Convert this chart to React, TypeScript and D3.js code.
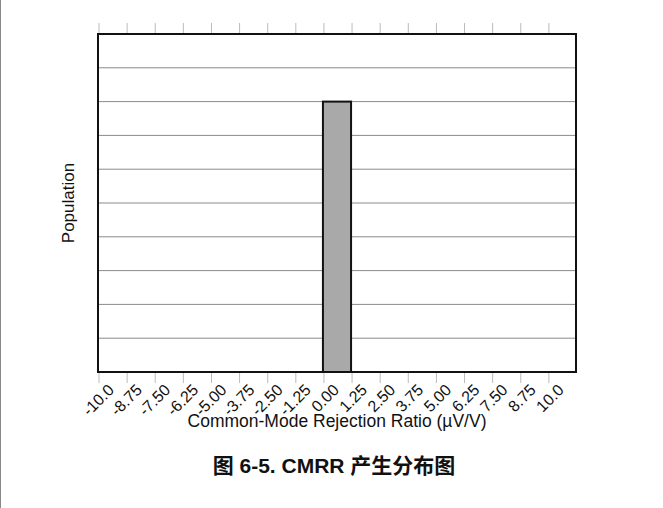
import * as d3 from "d3"

// bin edges (µV/V) and the count in each bin
const binStarts = [
  -10, -8.75, -7.5, -6.25, -5, -3.75, -2.5, -1.25, 0, 1.25, 2.5, 3.75, 5, 6.25, 7.5, 8.75, 10,
]
const binCounts = [0, 0, 0, 0, 0, 0, 0, 0, 8, 0, 0, 0, 0, 0, 0, 0, 0]
const tickValues = [
  -10, -8.75, -7.5, -6.25, -5, -3.75, -2.5, -1.25, 0, 1.25, 2.5, 3.75, 5, 6.25, 7.5, 8.75, 10,
]
const tickLabels = [
  "-10.0", "-8.75", "-7.50", "-6.25", "-5.00", "-3.75", "-2.50", "-1.25", "0.00",
  "1.25", "2.50", "3.75", "5.00", "6.25", "7.50", "8.75", "10.0",
]
const yGrid = [1, 2, 3, 4, 5, 6, 7, 8, 9]

const W = 663
const H = 508
const left = 98
const right = 576
const top = 34
const bottom = 372
const binWidth = 1.25

export default function App() {
  const x = d3.scaleLinear().domain([-10, 11.25]).range([left, right])
  const y = d3.scaleLinear().domain([0, 10]).range([bottom, top])
  const font = "Liberation Sans, Arial, sans-serif"

  return (
    <svg
      width={W}
      height={H}
      style={{ position: "absolute", left: 0, top: 0, background: "#fff" }}
      fontFamily={font}
    >
      <line x1={0.5} x2={0.5} y1={0} y2={H} stroke="#888" strokeWidth={1} />

      {/* tick marks above and below frame */}
      {tickValues.map((v) => (
        <g key={v}>
          <line x1={x(v) + 1} x2={x(v) + 1} y1={top - 11} y2={top} stroke="#bbb" />
          <line x1={x(v) + 1} x2={x(v) + 1} y1={bottom} y2={bottom + 11} stroke="#bbb" />
        </g>
      ))}

      {/* grid */}
      {yGrid.map((g) => (
        <line key={g} x1={left} x2={right} y1={y(g)} y2={y(g)} stroke="#8a8a8a" strokeWidth={1} />
      ))}

      {/* bars */}
      {binStarts.map((s, i) =>
        binCounts[i] > 0 ? (
          <rect
            key={s}
            x={x(s)}
            y={y(binCounts[i])}
            width={x(s + binWidth) - x(s)}
            height={y(0) - y(binCounts[i])}
            fill="#a9a9a9"
            stroke="#111"
            strokeWidth={2}
          />
        ) : null,
      )}

      {/* frame */}
      <rect
        x={left}
        y={top}
        width={right - left}
        height={bottom - top}
        fill="none"
        stroke="#111"
        strokeWidth={2}
      />

      {/* x tick labels */}
      {tickValues.map((v, i) => (
        <text
          key={v}
          transform={`translate(${x(v) + 17},${bottom + 19}) rotate(-45)`}
          textAnchor="end"
          fontSize={16}
          fill="#111"
        >
          {tickLabels[i]}
        </text>
      ))}

      <text x={(left + right) / 2} y={427} textAnchor="middle" fontSize={17.5} fill="#111">
        Common-Mode Rejection Ratio (µV/V)
      </text>

      <text
        transform={`translate(74,${(top + bottom) / 2}) rotate(-90)`}
        textAnchor="middle"
        fontSize={17}
        fill="#111"
      >
        Population
      </text>

      <text
        x={(left + right) / 2 - 3}
        y={473}
        textAnchor="middle"
        fontSize={21}
        fontWeight="bold"
        fill="#111"
        fontFamily="Liberation Sans, Noto Sans CJK SC, sans-serif"
      >
        图 6-5. CMRR 产生分布图
      </text>
    </svg>
  )
}
